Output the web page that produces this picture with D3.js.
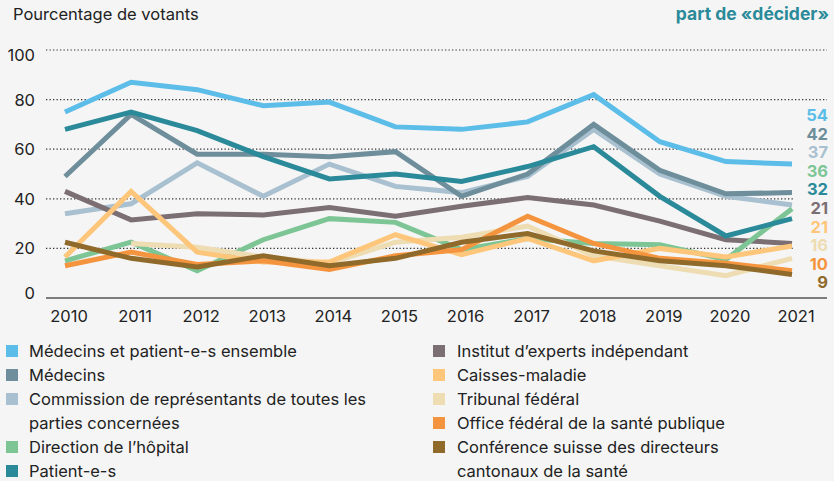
<!DOCTYPE html>
<html><head><meta charset="utf-8">
<script src="https://cdn.jsdelivr.net/npm/d3@7"></script>
<style>
body{margin:0;background:#f5f5f5;}
svg{display:block;font-family:Inter,"Noto Sans",sans-serif;}
</style></head>
<body>
<script>
const years = [2010,2011,2012,2013,2014,2015,2016,2017,2018,2019,2020,2021];
const yTicks = [0,20,40,60,80,100];

const seriesNames = [
  "Médecins et patient-e-s ensemble",
  "Médecins",
  "Commission de représentants de toutes les parties concernées",
  "Direction de l’hôpital",
  "Patient-e-s",
  "Institut d’experts indépendant",
  "Caisses-maladie",
  "Tribunal fédéral",
  "Office fédéral de la santé publique",
  "Conférence suisse des directeurs cantonaux de la santé"
];
const ensemble   = [75, 87, 84, 77.5, 79, 69, 68, 71, 82, 63, 55, 54];
const medecins   = [49, 74, 58, 58, 57, 59, 41, 50, 70, 51.5, 42, 42.5];
const commission = [34, 38, 54.5, 41, 54, 45, 42.5, 49, 68, 50, 41, 37.5];
const direction  = [15, 22.5, 11, 23.5, 32, 30.5, 19.5, 24, 22, 21.5, 15.5, 36];
const patients   = [68, 75, 67.5, 57, 48, 50, 47, 53, 61, 41, 25, 32];
const institut   = [43, 31.5, 34, 33.5, 36.5, 33, 37, 40.5, 37.5, 31, 23.5, 22];
const caisses    = [16.5, 43, 18.5, 14.5, 14.5, 25.5, 17.5, 24, 15, 20, 16.5, 21];
const tribunal   = [null, 22, 20.5, 16.5, 14, 22.5, 24.5, 29, 17, 13, 9, 16];
const ofsp       = [13, 18.5, 13.5, 15, 11.5, 17, 19.5, 33, 22, 16, 14, 11];
const conference = [22.5, 16, 12.5, 17, 13, 16, 22.5, 26, 19, 15, 13, 9.5];
const endLabels  = [54, 42, 37, 36, 32, 21, 21, 16, 10, 9];
const colors = ["#5bbde8","#6d8e9a","#a8c0cf","#7dc595","#2a8a99","#7b6f73","#fdc67a","#eedcb2","#f5943e","#8f6a2a"];
const values = [ensemble, medecins, commission, direction, patients, institut, caisses, tribunal, ofsp, conference];
const drawOrder = [2,1,5,3,7,6,8,9,4,0];
const legendLeft = [
  {i:0, lines:["Médecins et patient-e-s ensemble"]},
  {i:1, lines:["Médecins"]},
  {i:2, lines:["Commission de représentants de toutes les","parties concernées"]},
  {i:3, lines:["Direction de l’hôpital"]},
  {i:4, lines:["Patient-e-s"]}
];
const legendRight = [
  {i:5, lines:["Institut d’experts indépendant"]},
  {i:6, lines:["Caisses-maladie"]},
  {i:7, lines:["Tribunal fédéral"]},
  {i:8, lines:["Office fédéral de la santé publique"]},
  {i:9, lines:["Conférence suisse des directeurs","cantonaux de la santé"]}
];

const W = 834, H = 481;
const svg = d3.select("body").append("svg").attr("width", W).attr("height", H);
svg.append("rect").attr("width", W).attr("height", H).attr("fill", "#f5f5f5");

const x = d3.scaleLinear().domain([2010, 2021]).range([65, 792]);
const y = d3.scaleLinear().domain([0, 100]).range([298, 50]);

svg.append("text").attr("x", 13).attr("y", 20).attr("font-size", 16.5).attr("fill", "#222")
  .text("Pourcentage de votants");
svg.append("text").attr("x", 829).attr("y", 20).attr("font-size", 17.5).attr("font-weight", 700)
  .attr("fill", "#2a8a99").attr("text-anchor", "end").text("part de «décider»");

// grid
svg.append("g").selectAll("line").data(yTicks.filter(t => t > 0)).join("line")
  .attr("x1", 46).attr("x2", d => d >= 80 ? 827 : 793)
  .attr("y1", d => y(d)).attr("y2", d => y(d))
  .attr("stroke", "#333").attr("stroke-width", 1.2).attr("stroke-dasharray", "1.3,2.2");
svg.append("line").attr("x1", 46).attr("x2", 827).attr("y1", y(0)).attr("y2", y(0))
  .attr("stroke", "#555").attr("stroke-width", 1.5);

// y labels
svg.append("g").selectAll("text").data(yTicks).join("text")
  .attr("x", 35).attr("y", d => y(d) + (d === 100 ? 5 : d === 0 ? -4.5 : 0))
  .attr("dy", "0.36em").attr("text-anchor", "end").attr("font-size", 16.5).attr("fill", "#222")
  .text(d => d);

// x labels
svg.append("g").selectAll("text").data(years).join("text")
  .attr("x", d => x(d) + 4).attr("y", 322).attr("text-anchor", "middle")
  .attr("font-size", 16.5).attr("fill", "#222").text(d => d);

// lines
const line = d3.line().defined(d => d[1] != null).x(d => x(d[0])).y(d => y(d[1]));
svg.append("g").selectAll("path").data(drawOrder).join("path")
  .attr("d", i => line(years.map((yr, k) => [yr, values[i][k]])))
  .attr("fill", "none").attr("stroke", i => colors[i]).attr("stroke-width", 5)
  .attr("stroke-linejoin", "miter").attr("stroke-linecap", "butt");

// end labels
svg.append("g").selectAll("text").data(endLabels).join("text")
  .attr("x", 828).attr("y", (d, k) => 115 + k * 18.6).attr("dy", "0.36em")
  .attr("text-anchor", "end").attr("font-size", 16.5).attr("font-weight", 700)
  .attr("fill", (d, k) => colors[k]).text(d => d);

// legend
function legend(items, sx, tx) {
  let row = 0;
  const g = svg.append("g");
  items.forEach(it => {
    const cy = 351 + row * 24;
    g.append("rect").attr("x", sx).attr("y", cy - 6).attr("width", 12).attr("height", 12).attr("fill", colors[it.i]);
    it.lines.forEach((ln, j) => {
      g.append("text").attr("x", tx).attr("y", cy + j * 24).attr("dy", "0.36em")
        .attr("font-size", 16.5).attr("fill", "#222").text(ln);
    });
    row += it.lines.length;
  });
}
legend(legendLeft, 6, 29);
legend(legendRight, 433, 457);
</script>
</body></html>
